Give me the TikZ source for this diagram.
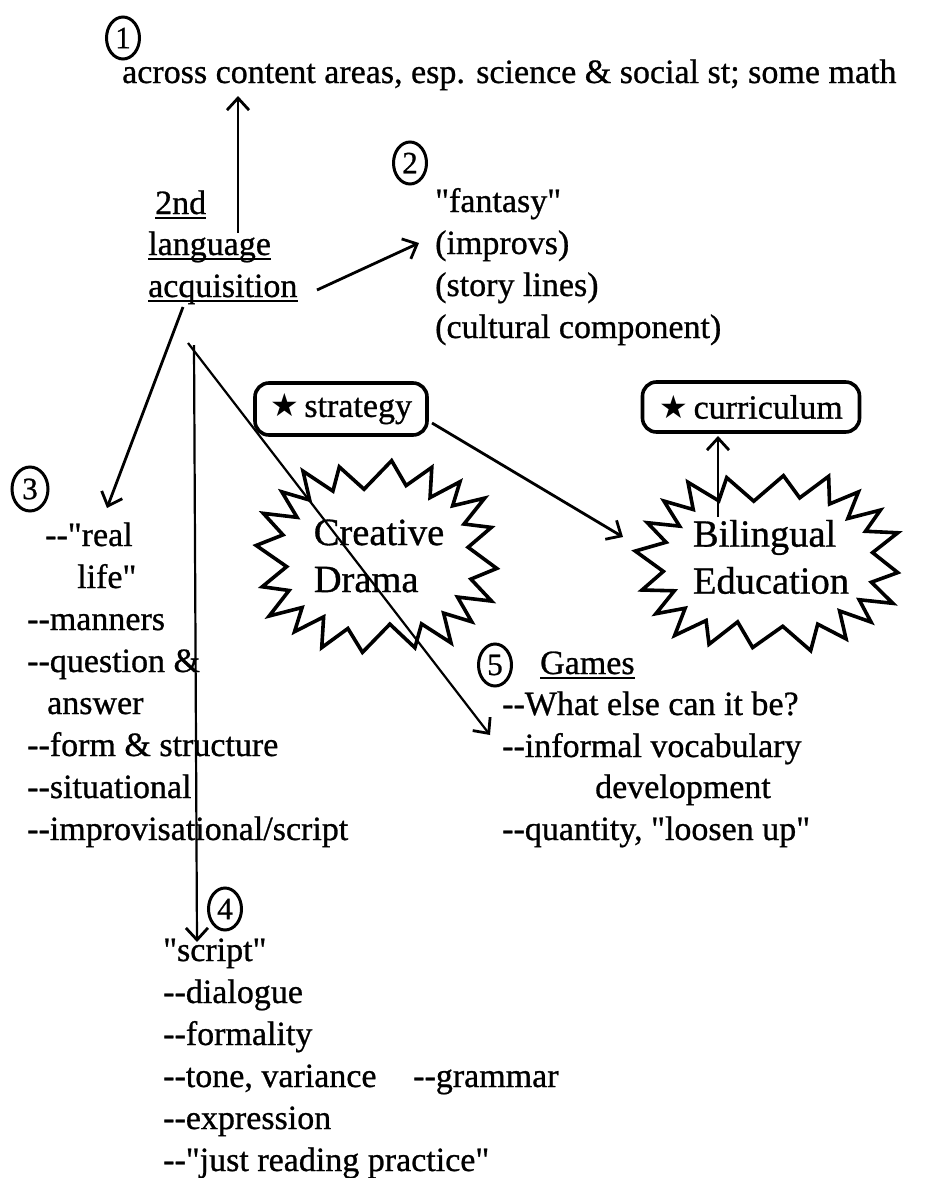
\documentclass[tikz,border=0pt]{standalone}
\usepackage{fontspec}
\setmainfont{Liberation Serif}[Ligatures=TeXOff, FakeBold=0.8]
\newfontfamily\symfont{DejaVu Sans}
\usetikzlibrary{arrows.meta,shapes.geometric}
\begin{document}
\begin{tikzpicture}[x=1pt,y=-1pt,
  txt/.style={inner sep=0pt, anchor=base west, font=\fontsize{34}{42}\selectfont},
  big/.style={inner sep=0pt, align=left, font=\fontsize{38.5}{47}\selectfont},
  numc/.style={draw, ellipse, line width=3pt, inner sep=0pt, minimum width=33pt, minimum height=42pt, font=\fontsize{31}{32}\selectfont},
  tagbox/.style={draw, rounded corners=14pt, line width=3.6pt, inner sep=0pt, minimum height=52pt, font=\fontsize{34}{40}\selectfont},
  tip/.style={-{Straight Barb[length=12pt,width=22pt,line width=2.8pt]}},
  arr/.style={tip, line width=2.8pt},
  thin/.style={tip, line width=2.2pt},
  burst/.style={line width=3.6pt, line join=miter},
  uline/.style={line width=1.8pt}
]
\fill[white] (0,0) rectangle (942,1178);
\useasboundingbox (0,0) rectangle (942,1178);

% ---- circled numbers
\node[numc] (c1) at (123,38) {1};
\node[numc] (c2) at (410,163) {2};
\node[numc, minimum width=36pt, minimum height=44pt] (c3) at (30,489) {3};
\node[numc] (c4) at (225,909) {4};
\node[numc] (c5) at (495,665) {5};

% ---- top line
\node[txt] (top) at (122,83) {across content areas, esp. science \& social st; some math};

% ---- 2nd language acquisition
\node[txt] (sec) at (155,214) {2nd};
\node[txt] (lang) at (148,255) {language};
\node[txt] (acq) at (148,297) {acquisition};
\foreach \n in {sec,lang,acq}
  \draw[uline] ([yshift=-4pt]\n.base west) -- ([yshift=-4pt]\n.base east);

% ---- fantasy list
\node[txt] (fa) at (435,212) {"fantasy"};
\node[txt] (im) at (435,254) {(improvs)};
\node[txt] (sl) at (435,296) {(story lines)};
\node[txt] (cc) at (435,338) {(cultural component)};

% ---- real life list
\node[txt] (r1) at (45,546) {--"real};
\node[txt] (r2) at (77,588) {life"};
\node[txt] (r3) at (27,630) {--manners};
\node[txt] (r4) at (27,672) {--question \&};
\node[txt] (r5) at (47,714) {answer};
\node[txt] (r6) at (27,756) {--form \& structure};
\node[txt] (r7) at (27,798) {--situational};
\node[txt] (r8) at (27,840) {--improvisational/script};

% ---- games list
\node[txt] (g0) at (540,674) {Games};
\draw[uline] ([yshift=-4pt]g0.base west) -- ([yshift=-4pt]g0.base east);
\node[txt] (g1) at (502,715) {--What else can it be?};
\node[txt] (g2) at (502,757) {--informal vocabulary};
\node[txt] (g3) at (595,798) {development};
\node[txt] (g4) at (502,840) {--quantity, "loosen up"};

% ---- script list
\node[txt] (s1) at (163,961) {"script"};
\node[txt] (s2) at (163,1003) {--dialogue};
\node[txt] (s3) at (163,1045) {--formality};
\node[txt] (s4) at (163,1087) {--tone, variance};
\node[txt] (s5) at (413,1087) {--grammar};
\node[txt] (s6) at (163,1129) {--expression};
\node[txt] (s7) at (163,1171) {--"just reading practice"};

% ---- boxes
\node[tagbox, minimum width=172pt] (strat) at (341,409) {{\symfont\fontsize{32}{34}\selectfont ★}\,strategy};
\node[tagbox, minimum width=217pt, minimum height=50pt] (curr) at (751,407) {{\symfont\fontsize{32}{34}\selectfont ★}\,curriculum};

% ---- starbursts (zigzag outline)
\node[big] (cd) at (379,556) {Creative\\Drama};
\node[big] (bil) at (771,557) {Bilingual\\Education};
\begin{scope}[shift={(377,557)}]
\draw[burst] \foreach \i in {0,...,39} {
  \ifnum\i>0 -- \fi
  ({(120-27*mod(\i,2)+3*sin(\i*73))*sign(cos(\i*9+4))*pow(abs(cos(\i*9+4)),0.8)},
   {(95-25*mod(\i,2)+3*sin(\i*73))*sign(sin(\i*9+4))*pow(abs(sin(\i*9+4)),0.8)})} -- cycle;
\end{scope}
\begin{scope}[shift={(768,562)}]
\draw[burst] \foreach \i in {0,...,39} {
  \ifnum\i>0 -- \fi
  ({(130-27*mod(\i,2)+3*sin(\i*59))*sign(cos(\i*9+4))*pow(abs(cos(\i*9+4)),0.8)},
   {(88-24*mod(\i,2)+3*sin(\i*59))*sign(sin(\i*9+4))*pow(abs(sin(\i*9+4)),0.8)})} -- cycle;
\end{scope}

% ---- connector end points
\coordinate (a1s) at (238,233);
\coordinate (a1e) at (238,96);
\coordinate (a2s) at (317,290);
\coordinate (a2e) at (419,243);
\coordinate (a3s) at (183,307);
\coordinate (a3e) at (107,508);
\coordinate (a4s) at (194,345);
\coordinate (a4e) at (197,942);
\coordinate (a5s) at (188,343);
\coordinate (a5e) at (490,735);
\coordinate (a6s) at (432,423);
\coordinate (a6e) at (623,537);
\coordinate (a7s) at (718,517);
\coordinate (a7e) at (718,436);

% ---- connectors
\draw[arr] (a1s) -- (a1e);
\draw[arr] (a2s) -- (a2e);
\draw[arr] (a3s) -- (a3e);
\draw[thin] (a4s) -- (a4e);
\draw[thin] (a5s) -- (a5e);
\draw[arr] (a6s) -- (a6e);
\draw[arr] (a7s) -- (a7e);
\end{tikzpicture}
\end{document}
